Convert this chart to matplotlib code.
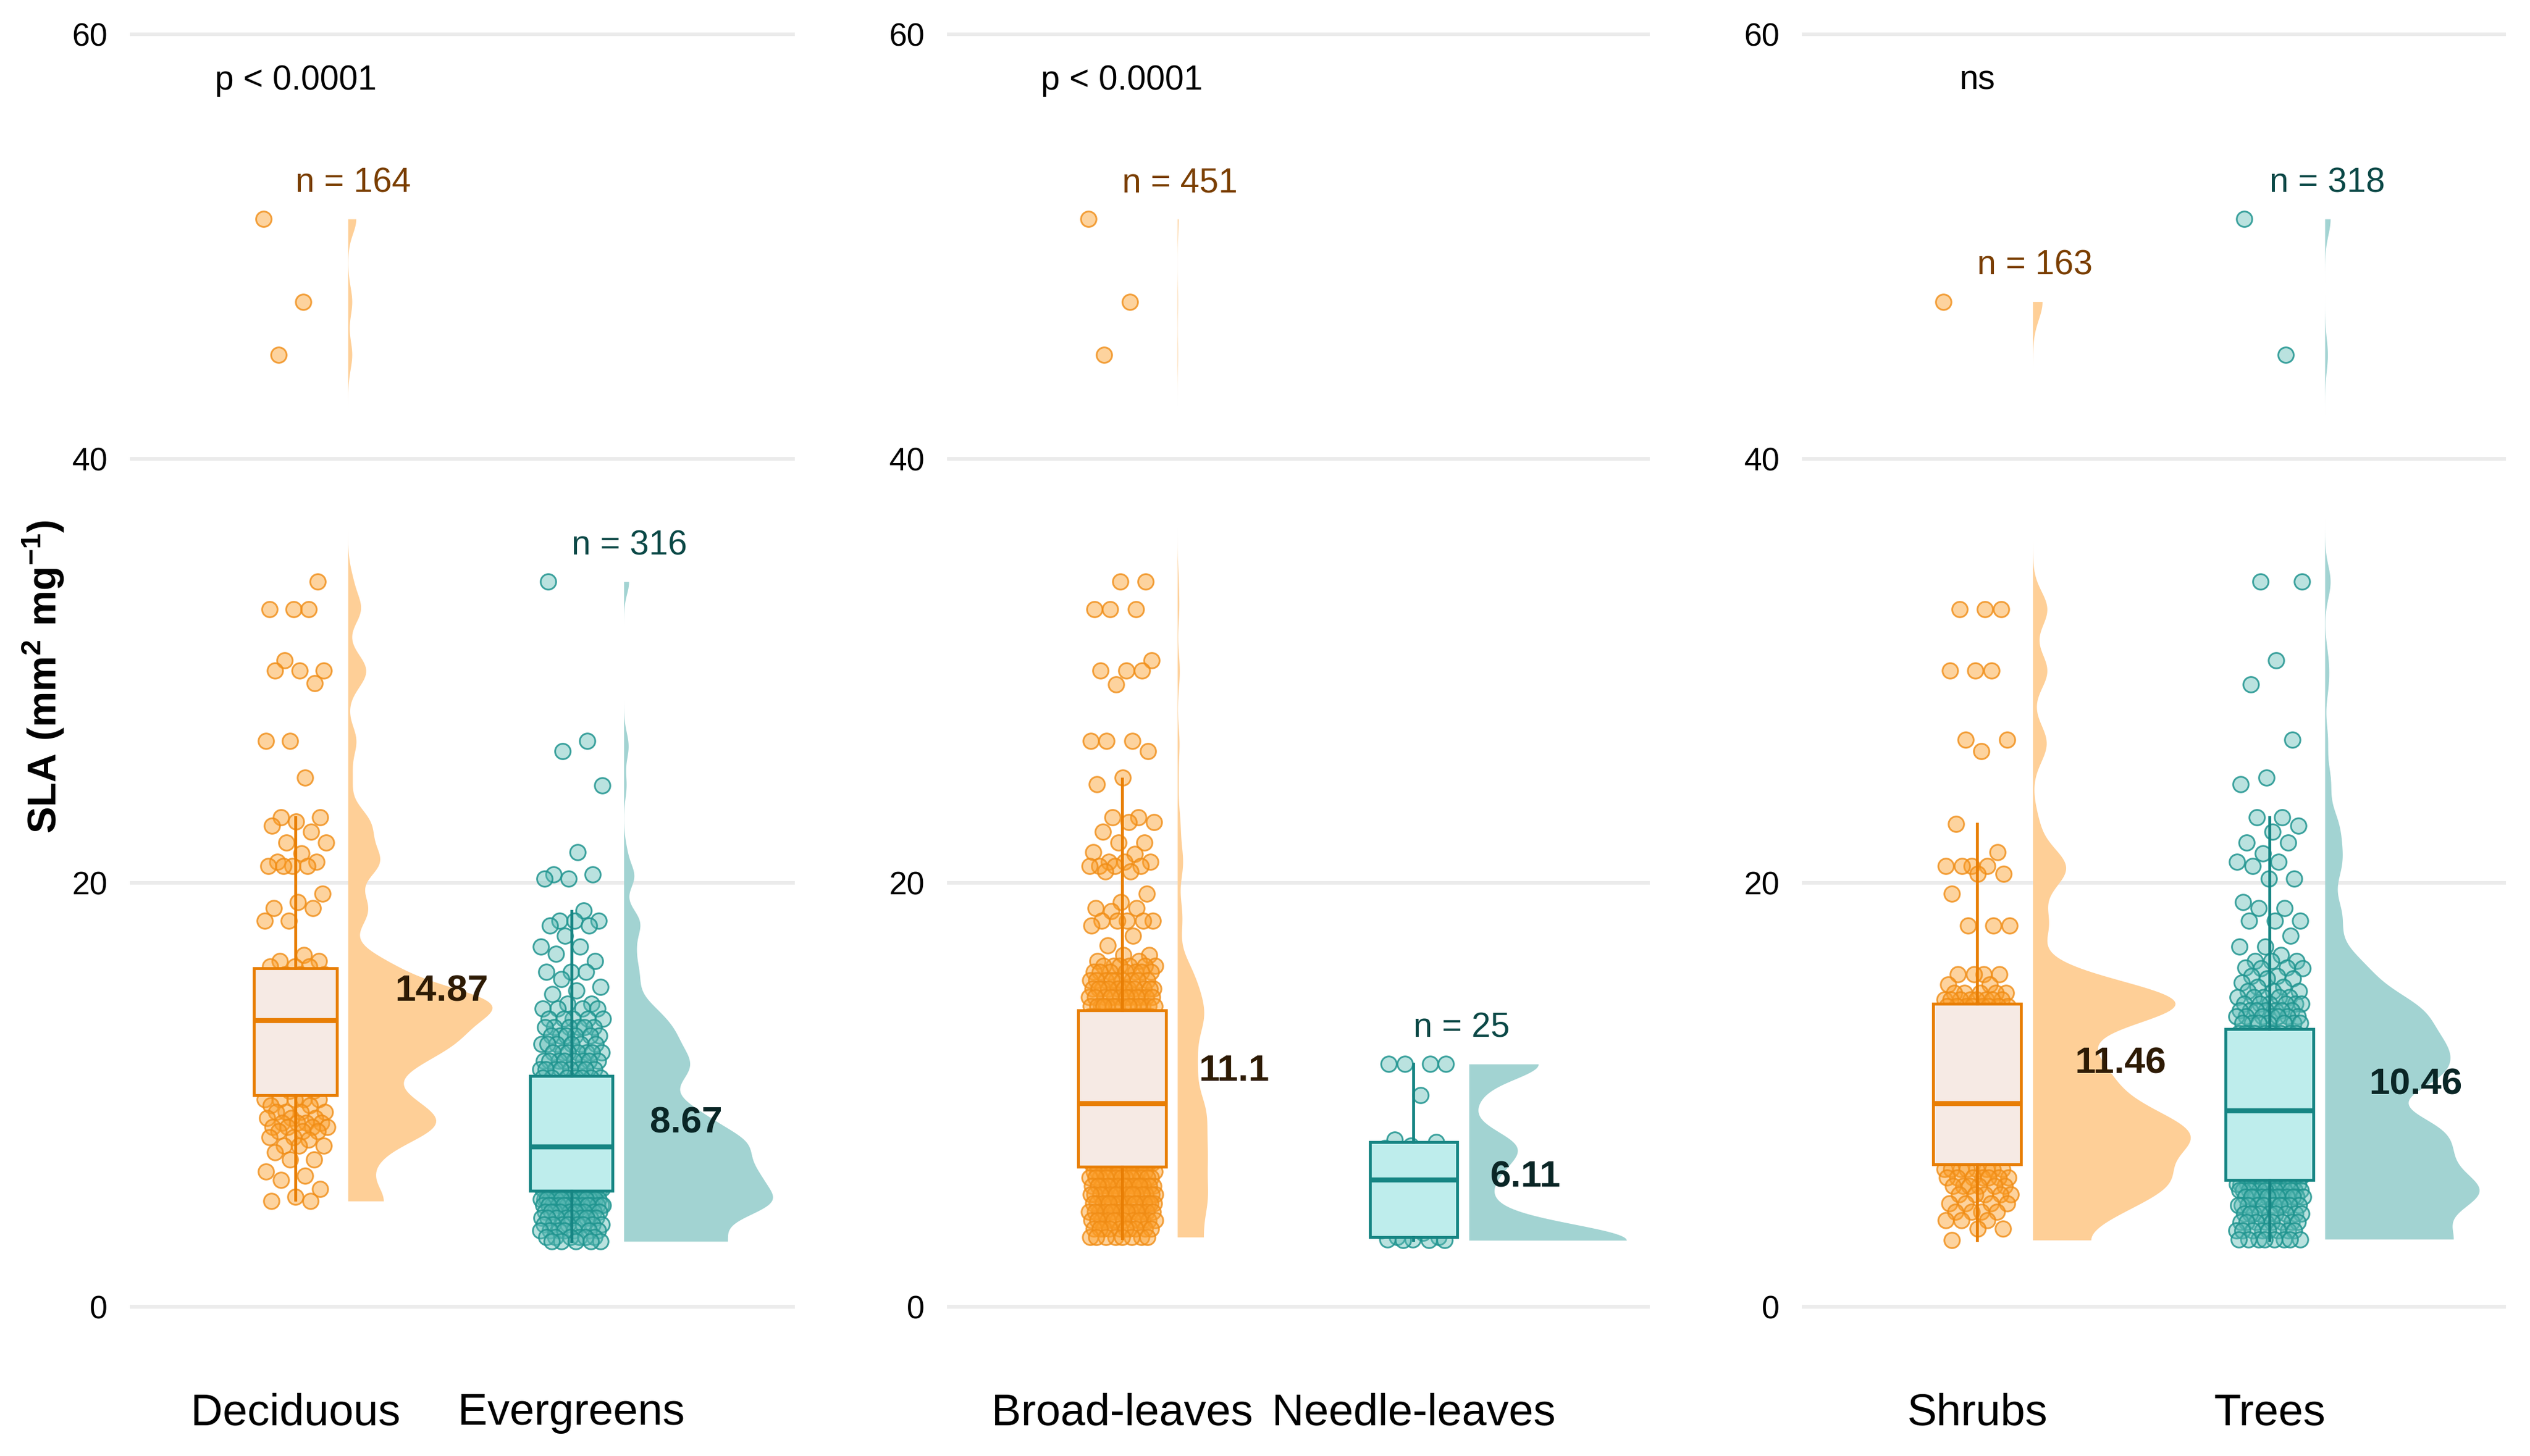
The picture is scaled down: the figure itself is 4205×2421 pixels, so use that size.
import numpy as np
import matplotlib
matplotlib.use("Agg")
import matplotlib.pyplot as plt

plt.rcParams['font.family'] = ['Liberation Sans', 'DejaVu Sans']
plt.rcParams['mathtext.fontset'] = 'custom'
plt.rcParams['mathtext.rm'] = 'Liberation Sans'
plt.rcParams['mathtext.bf'] = 'Liberation Sans:bold'

# ---- data: SLA values and how many points sit at each ----
dec_vals = [51.3, 47.4, 44.9, 34.2, 32.9, 30.5, 30.0, 29.4, 26.7, 24.95, 23.1, 22.9, 22.7, 22.4,
            21.9, 21.4, 21.0, 20.8, 19.5, 19.1, 18.8, 18.2, 16.6, 16.3, 16.05,
            15.7, 15.3, 14.9, 14.6, 14.3, 14.0, 13.7,
            13.3, 13.0, 12.6, 12.2, 11.8, 11.4, 11.0, 10.6, 10.2,
            9.8, 9.5, 9.2, 8.9, 8.7, 8.5, 8.3, 8.0, 7.9, 7.6, 7.3, 6.95, 6.4, 6.2, 6.0, 5.57, 5.2, 5.0]
dec_cnts = [1, 1, 1, 1, 3, 1, 3, 1, 2, 1, 2, 1, 1, 1,
            2, 1, 2, 4, 1, 1, 2, 2, 1, 2, 3,
            3, 3, 5, 8, 9, 8, 5,
            5, 7, 7, 6, 5, 4, 3, 2, 2,
            5, 2, 4, 3, 4, 4, 3, 2, 1, 3, 1, 2, 1, 1, 1, 1, 1, 2]

eve_vals = [34.2, 26.7, 26.2, 24.6, 21.45, 20.4, 20.2, 18.7, 18.2, 18.0, 17.5, 17.0, 16.65, 16.3,
            15.8, 15.45, 15.1, 14.93, 14.75, 14.3, 14.07,
            13.6, 13.2, 12.8, 12.4, 12.0, 11.6, 11.2,
            10.8, 10.4, 10.0, 9.6, 9.2, 8.8, 8.4, 8.0, 7.7,
            7.4, 7.1, 6.8, 6.5, 6.2, 5.9, 5.6,
            5.1, 4.8, 4.5, 4.2, 3.9, 3.6, 3.3, 3.1]
eve_cnts = [1, 1, 1, 1, 1, 2, 2, 1, 3, 2, 1, 2, 1, 1,
            3, 1, 1, 1, 1, 2, 4,
            5, 6, 6, 6, 7, 8, 8,
            7, 5, 5, 7, 9, 10, 11, 12, 13,
            9, 10, 11, 11, 11, 12, 15,
            20, 14, 10, 9, 8, 7, 6, 5]

brd_vals = [51.3, 47.4, 44.9, 34.2, 32.9, 30.5, 30.0, 29.35, 26.7, 26.2, 24.95, 24.66, 23.1, 22.85,
            22.4, 21.9, 21.46, 21.35, 21.0, 20.8, 20.53, 19.5, 19.1, 18.8, 18.66, 18.2, 18.0,
            17.5, 17.05, 16.6, 16.3,
            16.1, 15.8, 15.4, 15.0, 14.6, 14.2,
            13.7, 13.3, 12.8, 12.3, 11.8, 11.3, 10.8, 10.3, 9.8,
            9.5, 9.2, 8.8, 8.4, 8.0, 7.6, 7.2, 6.8,
            6.4, 6.1, 5.7, 5.3, 4.9, 4.5, 4.1, 3.7, 3.3]
brd_cnts = [1, 1, 1, 2, 3, 1, 3, 1, 3, 1, 1, 1, 2, 2,
            1, 2, 1, 1, 3, 4, 2, 1, 1, 2, 1, 5, 1,
            1, 1, 2, 2,
            6, 7, 9, 11, 12, 14,
            18, 14, 11, 12, 12, 12, 12, 12, 10,
            13, 13, 14, 14, 14, 14, 15, 16,
            10, 13, 14, 16, 15, 14, 12, 10, 8]

ndl_vals = [11.46, 10.0, 7.9, 7.77, 7.6, 7.5, 7.3, 6.8, 6.3, 6.0, 5.0, 4.5, 4.0, 3.6, 3.5, 3.3, 3.2, 3.15]
ndl_cnts = [4, 1, 1, 1, 1, 1, 1, 1, 1, 1, 1, 1, 1, 1, 1, 2, 2, 3]

shr_vals = [47.4, 32.9, 30.0, 26.75, 26.22, 22.78, 21.46, 20.8, 20.43, 19.5, 18.0, 15.7, 15.2, 14.8, 14.5,
            14.2, 13.9, 13.5, 13.0, 12.5, 12.0, 11.5, 11.0, 10.5, 10.0,
            9.4, 9.0, 8.6, 8.2, 7.8, 7.4,
            6.5, 6.1, 5.7, 5.3, 4.9, 4.5, 4.1, 3.7, 3.16]
shr_cnts = [1, 3, 3, 2, 1, 1, 1, 4, 2, 1, 3, 4, 2, 5, 8,
            8, 5, 4, 2, 2, 3, 4, 4, 4, 5,
            5, 6, 6, 7, 8, 9,
            8, 7, 6, 5, 4, 4, 3, 2, 1]

tre_vals = [51.3, 44.9, 34.2, 30.48, 29.35, 26.75, 24.95, 24.64, 23.1, 22.7, 22.4, 21.9, 21.4, 21.0,
            20.8, 20.2, 19.1, 18.8, 18.2, 17.5, 17.0, 16.6, 16.3, 16.0, 15.96, 15.6, 15.5, 15.3,
            15.1, 14.9,
            14.6, 14.3, 14.0, 13.7, 13.4,
            12.9, 12.5, 12.1, 11.7, 11.3, 10.9, 10.5, 10.0,
            9.0, 8.6, 8.2, 7.8, 7.4, 7.0, 6.6, 6.2,
            5.8, 5.5, 5.2, 4.8, 4.4, 4.0, 3.6, 3.2]
tre_cnts = [1, 1, 2, 1, 1, 1, 1, 1, 2, 1, 1, 2, 1, 2,
            1, 2, 1, 2, 3, 1, 2, 1, 3, 2, 2, 2, 2, 1,
            2, 3,
            5, 6, 7, 7, 7,
            10, 10, 10, 10, 10, 10, 10, 9,
            11, 10, 10, 10, 10, 10, 10, 9,
            11, 13, 12, 10, 9, 8, 8, 8]

groups = [["Deciduous", "Evergreens"], ["Broad-leaves", "Needle-leaves"], ["Shrubs", "Trees"]]
p_labels = ["p < 0.0001", "p < 0.0001", "ns"]
means = [[14.87, 8.67], [11.1, 6.11], [11.46, 10.46]]
# box stats: whisker low, q1, median, q3, whisker high
boxes = [[[5.05, 10.0, 13.5, 15.96, 23.1], [3.1, 5.48, 7.54, 10.9, 18.66]],
         [[3.25, 6.62, 9.6, 13.99, 24.9], [3.15, 3.3, 6.0, 7.77, 11.46]],
         [[3.16, 6.72, 9.6, 14.3, 22.78], [3.16, 6.0, 9.25, 13.1, 23.1]]]

data = [[np.repeat(dec_vals, dec_cnts), np.repeat(eve_vals, eve_cnts)],
        [np.repeat(brd_vals, brd_cnts), np.repeat(ndl_vals, ndl_cnts)],
        [np.repeat(shr_vals, shr_cnts), np.repeat(tre_vals, tre_cnts)]]

# ---- style ----
pt_face = [(0.99, 0.62, 0.16, 0.45), (0.36, 0.73, 0.71, 0.42)]
pt_edge = [(0.94, 0.55, 0.08, 0.8), (0.12, 0.58, 0.56, 0.85)]
box_face = ['#F6EAE4', '#BEEDEC']
box_edge = ['#E87E04', '#168583']
slab_col = ['#FECF97', '#A2D3D2']
n_col = ['#7A3E00', '#0A4846']
mean_col = ['#2E1B04', '#0A2626']

rects = [(0.05137, 0.05857, 0.26278, 0.93965),
         (0.37432, 0.05857, 0.27777, 0.93965),
         (0.71225, 0.05857, 0.27824, 0.93965)]
xlim = (0.4, 2.81)
slab_off, slab_max, jit_w = 0.19, 0.54, 0.115


def bounded_kde(d, grid, adjust=0.5):
    n = len(d)
    q75, q25 = np.percentile(d, [75, 25])
    bw = 0.9 * min(d.std(ddof=1), (q75 - q25) / 1.34) * n ** -0.2 * adjust
    a, b = d.min(), d.max()
    k = lambda c: np.exp(-0.5 * ((grid[:, None] - c[None, :]) / bw) ** 2).sum(1)
    return (k(d) + k(2 * a - d) + k(2 * b - d)) / (n * bw * np.sqrt(2 * np.pi))


fig = plt.figure(figsize=(4205 / 300, 2421 / 300), dpi=300)
mean_texts = []
for p in range(3):
    ax = fig.add_axes(rects[p])
    grids, dens = [], []
    for g in range(2):
        d = data[p][g]
        y = np.linspace(d.min(), d.max(), 512)
        grids.append(y)
        dens.append(bounded_kde(d, y))
    top = max(dd.max() for dd in dens)
    for g in range(2):
        d = data[p][g]
        pos = g + 1
        k = np.arange(len(d))
        xj = pos + jit_w * (2 * ((k * 0.6180339887 + 0.13 * g) % 1.0) - 1)
        ax.scatter(xj, d, s=38, facecolors=pt_face[g], edgecolors=pt_edge[g],
                   linewidths=0.7, zorder=2)
        x0 = pos + slab_off
        ax.fill_betweenx(grids[g], x0, x0 + dens[g] / top * slab_max,
                         color=slab_col[g], lw=0, zorder=2)
        lo, q1, med, q3, hi = boxes[p][g]
        ax.bxp([dict(whislo=lo, q1=q1, med=med, q3=q3, whishi=hi, fliers=[])],
               positions=[pos], widths=0.30, patch_artist=True, showcaps=False,
               showfliers=False, manage_ticks=False, zorder=3,
               boxprops=dict(facecolor=box_face[g], edgecolor=box_edge[g], linewidth=1.15),
               whiskerprops=dict(color=box_edge[g], linewidth=1.15),
               medianprops=dict(color=box_edge[g], linewidth=2.0, solid_capstyle='butt'))
        ax.text(pos, d.max() + 1.7, f"n = {len(d)}", ha='left', va='center',
                fontsize=13.7, color=n_col[g], zorder=5)
        t = ax.text(pos, means[p][g], f"{means[p][g]:g}", ha='left', va='center',
                    fontsize=14.9, fontweight='bold', color=mean_col[g], zorder=5)
        mean_texts.append((ax, t, pos))
    ax.text(1, 57.4, p_labels[p], ha='center', va='baseline', fontsize=13.6, color='black')

    ax.set_xlim(*xlim)
    ax.set_ylim(-3, 61.5)
    ax.set_yticks([0, 20, 40, 60])
    ax.set_xticks([1, 2])
    ax.set_xticklabels(groups[p])
    ax.tick_params(axis='y', length=0, pad=8.9, labelsize=12.8, labelcolor='black')
    ax.tick_params(axis='x', length=0, pad=8.6, labelsize=17.7, labelcolor='black')
    ax.grid(axis='y', color='#EBEBEB', linewidth=1.45)
    ax.set_axisbelow(True)
    for s in ax.spines.values():
        s.set_visible(False)

fig.text(72 / 4205, 1 - 1125 / 2421, r'$\mathbf{SLA\ (mm^2\ mg^{-1})}$', rotation=90,
         ha='center', va='center', fontsize=16)

# mean labels sit one text-width to the right of the group position
fig.canvas.draw()
r = fig.canvas.get_renderer()
for ax, t, pos in mean_texts:
    w = t.get_window_extent(r).width
    ppu = ax.bbox.width / (xlim[1] - xlim[0])
    t.set_x(pos + (w + 10) / ppu)

fig.savefig("out.png", dpi=300)
